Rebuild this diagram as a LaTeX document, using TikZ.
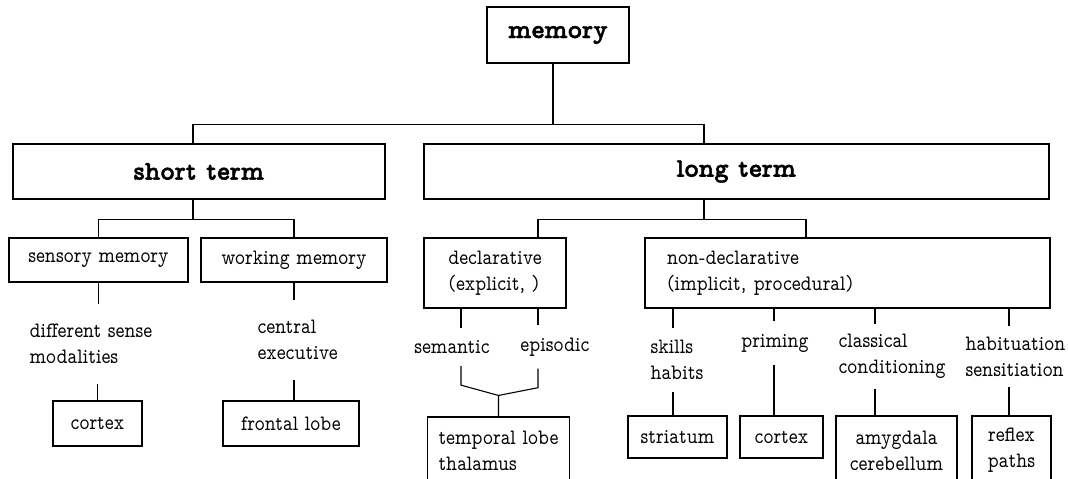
\documentclass[tikz,border=0pt]{standalone}
\usepackage{fontspec}
\usepackage{tikz}
\usetikzlibrary{positioning}
\newfontfamily\boxfont[FakeStretch=0.86]{lmmonoprop10-regular.otf}
\newfontfamily\headfont[FakeBold=1.5]{lmmonoproplt10-bold.otf}

\begin{document}
\begin{tikzpicture}[x=1pt,y=-1pt,line width=1.1pt,
  box/.style={draw,rectangle,inner sep=0pt,align=center,font=\boxfont\fontsize{22}{26}\selectfont},
  head/.style={box,font=\headfont\fontsize{27}{30}\selectfont},
  lbl/.style={inner xsep=0pt,inner ysep=#1,align=left,font=\boxfont\fontsize{22}{26}\selectfont},
  lbl/.default=12pt]
\useasboundingbox (0,0) rectangle (1068,479);
\clip (0,0) rectangle (1068,479);

\node[head,minimum width=142pt,minimum height=56pt] (mem) at (558,35) {memory};
\node[head,minimum width=372pt,minimum height=55pt] (st) at (199,171.5) {short term};
\node[head,minimum width=625pt,minimum height=55pt] (lt) at (736.5,171.5) {long term};

\node[box,minimum width=179pt,minimum height=44pt] (sens) at (98.5,260) {sensory memory};
\node[box,minimum width=186pt,minimum height=44pt] (work) at (294,260) {working memory};
\node[box,align=left,minimum width=142pt,minimum height=70pt] (decl) at (495,273) {declarative\\(explicit, )};
\node[box,align=left,text width=361pt,inner xsep=22pt,minimum height=70pt] (nondecl) at (847.5,273) {non-declarative\\(implicit, procedural)};

\node[lbl=20pt,anchor=west] (diff) at (29,344) {different sense\\modalities};
\node[lbl=20pt,anchor=west] (cent) at (257,340) {central\\executive};
\node[lbl] (sem) at (452,347) {semantic};
\node[lbl] (epi) at (555,347) {episodic};
\node[lbl,anchor=west] (skill) at (650,360) {skills\\habits};
\node[lbl] (prim) at (775,343) {priming};
\node[lbl=10pt,anchor=west] (class) at (838,356.5) {classical\\conditioning};
\node[lbl=10pt,anchor=west] (habit) at (965,356.5) {habituation\\sensitiation};

\node[box,minimum width=89pt,minimum height=45pt] (ctx) at (97.5,423.5) {cortex};
\node[box,minimum width=136pt,minimum height=45pt] (front) at (291,423.5) {frontal lobe};
\node[box,align=left,minimum width=142pt,minimum height=68pt] (temp) at (498.5,451) {temporal lobe\\thalamus};
\node[box,minimum width=99pt,minimum height=42pt] (stri) at (677.5,437) {striatum};
\node[box,minimum width=83pt,minimum height=42pt] (ctxb) at (781.5,437) {cortex};
\node[box,minimum width=121pt,minimum height=69pt] (amyg) at (896.5,450.5) {amygdala\\cerebellum};
\node[box,minimum width=79pt,minimum height=69pt] (refl) at (1011.5,450.5) {reflex\\paths};

\draw ([xshift=-5pt]mem.south) -- ++(0,61) -| ([xshift=-6pt]st.north);
\draw ([xshift=-5pt]mem.south) -- ++(0,61) -| ([xshift=-32.5pt]lt.north);
\draw ([xshift=-6pt]st.south) -- ++(0,20) -| (sens.north);
\draw ([xshift=-6pt]st.south) -- ++(0,20) -| (work.north);
\draw ([xshift=-32.5pt]lt.south) -- ++(0,20) -| ([xshift=43pt]decl.north);
\draw ([xshift=-32.5pt]lt.south) -- ++(0,20) -| ([xshift=-41.5pt]nondecl.north);

\draw (sens.south) -- (sens.south |- diff.north);
\draw (ctx.north |- diff.south) -- (ctx.north);
\draw ([xshift=3pt]front.north |- work.south) -- ([xshift=3pt]front.north |- cent.north);
\draw ([xshift=3pt]front.north |- cent.south) -- ([xshift=3pt]front.north);

\draw ([xshift=-34pt]decl.south) -- ([xshift=-34pt]decl.south |- sem.north);
\draw ([xshift=43pt]decl.south) -- ([xshift=43pt]decl.south |- epi.north);
\draw ([xshift=-34pt]decl.south |- sem.south) -- ++(0,19) -- ([yshift=21pt]temp.north) -- (temp.north);
\draw ([xshift=43pt]decl.south |- epi.south) -- ++(0,19) -- ([yshift=21pt]temp.north);

\draw ([xshift=-4.5pt]stri.north |- nondecl.south) -- ([xshift=-4.5pt]stri.north |- skill.north);
\draw ([xshift=-4.5pt]stri.north |- skill.south) -- ([xshift=-4.5pt]stri.north);
\draw ([xshift=-7.5pt]ctxb.north |- nondecl.south) -- ([xshift=-7.5pt]ctxb.north |- prim.north);
\draw ([xshift=-7.5pt]ctxb.north |- prim.south) -- ([xshift=-7.5pt]ctxb.north);
\draw ([xshift=-21.5pt]amyg.north |- nondecl.south) -- ([xshift=-21.5pt]amyg.north |- class.north);
\draw ([xshift=-21.5pt]amyg.north |- class.south) -- ([xshift=-21.5pt]amyg.north);
\draw ([xshift=-2.5pt]refl.north |- nondecl.south) -- ([xshift=-2.5pt]refl.north |- habit.north);
\draw ([xshift=-2.5pt]refl.north |- habit.south) -- ([xshift=-2.5pt]refl.north);
\end{tikzpicture}
\end{document}
